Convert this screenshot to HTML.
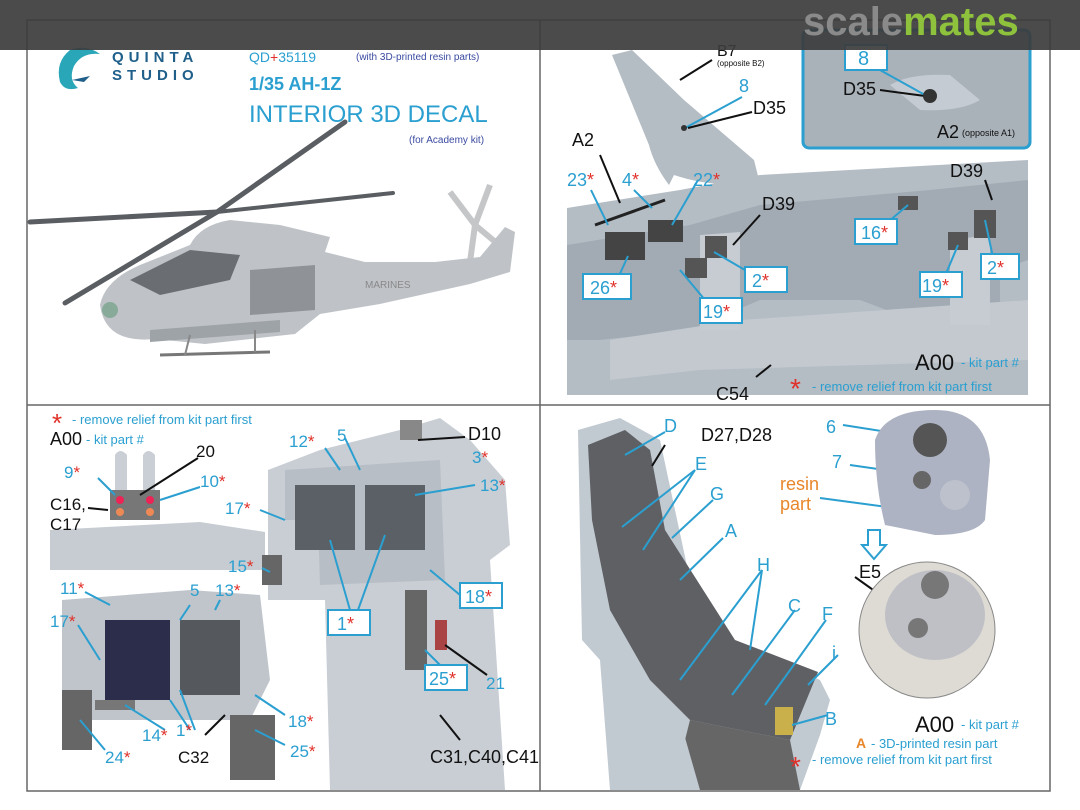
<!DOCTYPE html>
<html><head><meta charset="utf-8"><style>
html,body{margin:0;padding:0;background:#fff}
svg{display:block}
text{font-family:"Liberation Sans",sans-serif}
.c{fill:#2a9fd0}.k{fill:#111}.r{fill:#e0312a}
</style></head><body>
<svg width="1080" height="810" viewBox="0 0 1080 810" xmlns="http://www.w3.org/2000/svg">
<rect width="1080" height="810" fill="#fff"/>
<g stroke="#666" stroke-width="1.5" fill="none">
<rect x="27" y="20" width="1023" height="771"/>
<line x1="540" y1="20" x2="540" y2="791"/>
<line x1="27" y1="405" x2="1050" y2="405"/>
</g>

<!-- TOP LEFT -->
<g>
<path d="M70 50 q-15 12 -10 32 q5 10 18 6 q-10 -8 -4 -22 q8 -14 26 -12 q-14 -10 -30 -4z" fill="#29a7b8"/>
<path d="M72 80 l18 -4 l-6 6 z" fill="#1f5f8a"/>
<text x="112" y="62" font-size="15" letter-spacing="5" fill="#1f5f8a" font-weight="bold">QUINTA</text>
<text x="112" y="80" font-size="15" letter-spacing="5" fill="#1f5f8a" font-weight="bold">STUDIO</text>
<text x="249" y="62" font-size="14" class="c">QD<tspan class="r">+</tspan>35119</text>
<text x="356" y="60" font-size="10" fill="#3a4aa0">(with 3D-printed resin parts)</text>
<text x="249" y="90" font-size="18" font-weight="bold" class="c">1/35 AH-1Z</text>
<text x="249" y="122" font-size="24" class="c">INTERIOR 3D DECAL</text>
<text x="409" y="143" font-size="10" fill="#3a4aa0">(for Academy kit)</text>
<!-- helicopter -->
<g stroke="#5a5e62" stroke-linecap="round" fill="none">
<line x1="30" y1="222" x2="217" y2="212" stroke-width="5"/>
<line x1="217" y1="212" x2="393" y2="193" stroke-width="4"/>
<line x1="217" y1="212" x2="345" y2="122" stroke-width="5"/>
<line x1="217" y1="212" x2="65" y2="303" stroke-width="5"/>
</g>
<g stroke="#c4c6c8" stroke-width="6" fill="none">
<line x1="475" y1="225" x2="450" y2="192"/><line x1="475" y1="225" x2="490" y2="185"/>
<line x1="475" y1="225" x2="505" y2="250"/><line x1="475" y1="225" x2="470" y2="262"/>
</g>
<path d="M100 305 q5 -25 40 -40 l50 -20 q10 -20 40 -25 l50 5 l50 12 l-5 15 l40 10 l70 0 l45 -5 l25 -30 l10 5 l-5 40 l-40 12 l-90 20 l-60 10 l-25 20 l-90 10 l-50 -5 q-50 5 -55 -34z" fill="#bfc3c7"/>
<path d="M130 280 l60 -30 l50 5 l-10 25 l-70 15z" fill="#6a6e72"/>
<path d="M250 270 l65 -5 l0 45 l-65 5z" fill="#8f9398"/>
<path d="M150 330 l130 -10 l0 12 l-130 10z" fill="#9ea3a8"/>
<line x1="160" y1="355" x2="270" y2="352" stroke="#777" stroke-width="3"/>
<line x1="190" y1="335" x2="185" y2="355" stroke="#888" stroke-width="2"/><line x1="255" y1="330" x2="255" y2="352" stroke="#888" stroke-width="2"/>
<circle cx="110" cy="310" r="8" fill="#8a9"/>
<text x="365" y="288" font-size="10" fill="#888">MARINES</text>
</g>

<!-- TOP RIGHT -->
<path d="M612 55 l20 -5 l52 50 l70 60 l5 20 q-40 10 -85 -5 l-5 10 q-15 -20 -20 -40 z" fill="#b4bcc4"/>
<line x1="680" y1="80" x2="712" y2="60" stroke="#111" stroke-width="2"/>
<text x="717" y="56" font-size="16" class="k">B7</text>
<text x="717" y="66" font-size="8" class="k">(opposite B2)</text>
<text x="739" y="92" font-size="18" class="c">8</text>
<line x1="742" y1="97" x2="685" y2="128" stroke="#2a9fd0" stroke-width="2"/>
<text x="753" y="114" font-size="18" class="k">D35</text>
<line x1="752" y1="112" x2="688" y2="128" stroke="#111" stroke-width="2"/>
<circle cx="684" cy="128" r="3" fill="#333"/>
<rect x="803" y="30" width="227" height="118" rx="6" fill="#a9b1b9" stroke="#2a9fd0" stroke-width="3"/>
<path d="M890 85 q20 -12 60 -10 l30 25 q-20 12 -60 10z" fill="#c4cbd2"/>
<rect x="845" y="45" width="42" height="25" fill="#fff" stroke="#2a9fd0" stroke-width="2"/>
<text x="858" y="65" font-size="20" class="c">8</text>
<text x="843" y="95" font-size="18" class="k">D35</text>
<line x1="880" y1="90" x2="925" y2="96" stroke="#111" stroke-width="2"/>
<line x1="880" y1="70" x2="925" y2="95" stroke="#2a9fd0" stroke-width="2"/>
<circle cx="930" cy="96" r="7" fill="#333"/>
<text x="937" y="138" font-size="18" class="k">A2</text>
<text x="962" y="136" font-size="9" class="k">(opposite A1)</text>

<path d="M567 208 L680 190 L760 175 L1028 160 L1028 395 L567 395 Z" fill="#b4bcc4"/>
<path d="M567 245 L690 225 L760 205 L930 190 L1028 180 L1028 260 L1000 270 L1000 330 L940 330 L860 300 L760 300 L690 330 L600 340 L567 340 Z" fill="#a2aab3"/>
<path d="M610 340 L740 320 L1028 300 L1028 360 L700 370 L610 380 Z" fill="#c3c9cf"/>
<path d="M700 235 L740 232 L740 330 L700 330Z" fill="#c6ccd2"/>
<path d="M950 240 L990 235 L990 325 L950 325Z" fill="#c6ccd2"/>
<rect x="605" y="232" width="40" height="28" fill="#444"/>
<rect x="648" y="220" width="35" height="22" fill="#444"/>
<rect x="685" y="258" width="22" height="20" fill="#555"/>
<rect x="705" y="236" width="22" height="22" fill="#555"/>
<rect x="898" y="196" width="20" height="14" fill="#555"/>
<rect x="948" y="232" width="20" height="18" fill="#555"/>
<rect x="974" y="210" width="22" height="28" fill="#555"/>
<line x1="595" y1="225" x2="665" y2="200" stroke="#222" stroke-width="3"/>
<g stroke="#2a9fd0" stroke-width="2" fill="none">
<line x1="591" y1="190" x2="608" y2="225"/><line x1="634" y1="190" x2="652" y2="208"/>
<line x1="698" y1="180" x2="672" y2="225"/><line x1="628" y1="256" x2="618" y2="278"/>
<line x1="680" y1="270" x2="705" y2="300"/><line x1="714" y1="252" x2="745" y2="270"/>
<line x1="908" y1="205" x2="888" y2="222"/><line x1="958" y1="245" x2="945" y2="276"/>
<line x1="985" y1="220" x2="994" y2="262"/>
</g>
<line x1="600" y1="155" x2="620" y2="203" stroke="#111" stroke-width="2"/>
<line x1="760" y1="215" x2="733" y2="245" stroke="#111" stroke-width="2"/>
<line x1="985" y1="180" x2="992" y2="200" stroke="#111" stroke-width="2"/>
<line x1="771" y1="365" x2="756" y2="377" stroke="#111" stroke-width="2"/>
<text x="572" y="146" font-size="18" class="k">A2</text>
<text x="567" y="186" font-size="18" class="c">23<tspan class="r">*</tspan></text>
<text x="622" y="186" font-size="18" class="c">4<tspan class="r">*</tspan></text>
<text x="693" y="186" font-size="18" class="c">22<tspan class="r">*</tspan></text>
<text x="762" y="210" font-size="18" class="k">D39</text>
<text x="950" y="177" font-size="18" class="k">D39</text>
<text x="716" y="400" font-size="18" class="k">C54</text>
<g fill="#fff" stroke="#2a9fd0" stroke-width="2">
<rect x="583" y="274" width="48" height="25"/><rect x="745" y="267" width="42" height="25"/>
<rect x="700" y="298" width="42" height="25"/><rect x="855" y="219" width="42" height="25"/>
<rect x="920" y="272" width="42" height="25"/><rect x="981" y="254" width="38" height="25"/>
</g>
<text x="590" y="294" font-size="18" class="c">26<tspan class="r">*</tspan></text>
<text x="752" y="287" font-size="18" class="c">2<tspan class="r">*</tspan></text>
<text x="703" y="318" font-size="18" class="c">19<tspan class="r">*</tspan></text>
<text x="861" y="239" font-size="18" class="c">16<tspan class="r">*</tspan></text>
<text x="922" y="292" font-size="18" class="c">19<tspan class="r">*</tspan></text>
<text x="987" y="274" font-size="18" class="c">2<tspan class="r">*</tspan></text>
<text x="915" y="370" font-size="22" class="k">A00</text>
<text x="961" y="367" font-size="13" class="c">- kit part #</text>
<text x="790" y="398" font-size="28" class="r">*</text>
<text x="812" y="391" font-size="13" class="c">- remove relief from kit part first</text>

<!-- BOTTOM LEFT -->
<text x="52" y="432" font-size="26" class="r">*</text>
<text x="72" y="424" font-size="13" class="c">- remove relief from kit part first</text>
<text x="50" y="445" font-size="18" class="k">A00</text>
<text x="86" y="444" font-size="13" class="c">- kit part #</text>
<path d="M50 530 L200 522 L265 532 L265 570 L50 570Z" fill="#c6ccd2"/>
<path d="M115 455 q5 -8 12 0 l0 40 l-12 0z M143 455 q5 -8 12 0 l0 40 l-12 0z" fill="#c9cfd5"/>
<rect x="110" y="490" width="50" height="30" fill="#777"/>
<circle cx="120" cy="500" r="4" fill="#e25"/><circle cx="150" cy="500" r="4" fill="#e25"/>
<circle cx="120" cy="512" r="4" fill="#e85"/><circle cx="150" cy="512" r="4" fill="#e85"/>
<line x1="98" y1="478" x2="115" y2="495" stroke="#2a9fd0" stroke-width="2"/>
<line x1="198" y1="458" x2="140" y2="495" stroke="#111" stroke-width="2"/>
<line x1="200" y1="487" x2="160" y2="500" stroke="#2a9fd0" stroke-width="2"/>
<line x1="88" y1="508" x2="108" y2="510" stroke="#111" stroke-width="2"/>
<text x="64" y="478" font-size="17" class="c">9<tspan class="r">*</tspan></text>
<text x="196" y="457" font-size="17" class="k">20</text>
<text x="200" y="487" font-size="17" class="c">10<tspan class="r">*</tspan></text>
<text x="50" y="510" font-size="17" class="k">C16,</text>
<text x="50" y="530" font-size="17" class="k">C17</text>

<path d="M268 470 L320 450 L400 430 L440 418 L470 440 L505 480 L510 545 L490 560 L505 790 L330 790 L325 600 L268 600Z" fill="#c9ced4"/>
<path d="M285 470 L440 460 L445 580 L320 585 L318 520 L285 520Z" fill="#b8bec5"/>
<rect x="295" y="485" width="60" height="65" fill="#5b6066"/>
<rect x="365" y="485" width="60" height="65" fill="#5b6066"/>
<rect x="405" y="590" width="22" height="80" fill="#666"/>
<rect x="435" y="620" width="12" height="30" fill="#a44"/>
<rect x="262" y="555" width="20" height="30" fill="#666"/>
<rect x="400" y="420" width="22" height="20" fill="#888"/>
<path d="M62 600 L190 590 L260 595 L270 680 L250 720 L62 720Z" fill="#bfc5cb"/>
<rect x="105" y="620" width="65" height="80" fill="#2c2d4a"/>
<rect x="180" y="620" width="60" height="75" fill="#55595e"/>
<rect x="62" y="690" width="30" height="60" fill="#666"/>
<rect x="95" y="700" width="40" height="10" fill="#777"/>
<rect x="230" y="715" width="45" height="65" fill="#666"/>
<g stroke="#2a9fd0" stroke-width="2" fill="none">
<line x1="325" y1="448" x2="340" y2="470"/><line x1="345" y1="438" x2="360" y2="470"/>
<line x1="475" y1="485" x2="415" y2="495"/><line x1="260" y1="510" x2="285" y2="520"/>
<line x1="262" y1="568" x2="270" y2="572"/><line x1="460" y1="595" x2="430" y2="570"/>
<line x1="350" y1="610" x2="330" y2="540"/><line x1="358" y1="610" x2="385" y2="535"/>
<line x1="440" y1="665" x2="425" y2="650"/>
<line x1="85" y1="592" x2="110" y2="605"/><line x1="190" y1="605" x2="180" y2="620"/>
<line x1="220" y1="600" x2="215" y2="610"/><line x1="78" y1="625" x2="100" y2="660"/>
<line x1="195" y1="730" x2="180" y2="690"/><line x1="190" y1="730" x2="170" y2="700"/>
<line x1="165" y1="730" x2="125" y2="705"/><line x1="285" y1="715" x2="255" y2="695"/>
<line x1="285" y1="745" x2="255" y2="730"/><line x1="105" y1="750" x2="80" y2="720"/>
</g>
<g stroke="#111" stroke-width="2"><line x1="465" y1="437" x2="418" y2="440"/><line x1="487" y1="675" x2="445" y2="645"/><line x1="460" y1="740" x2="440" y2="715"/><line x1="205" y1="735" x2="225" y2="715"/></g>
<text x="289" y="447" font-size="17" class="c">12<tspan class="r">*</tspan></text>
<text x="337" y="441" font-size="17" class="c">5</text>
<text x="468" y="440" font-size="18" class="k">D10</text>
<text x="472" y="463" font-size="17" class="c">3<tspan class="r">*</tspan></text>
<text x="480" y="491" font-size="17" class="c">13<tspan class="r">*</tspan></text>
<text x="225" y="514" font-size="17" class="c">17<tspan class="r">*</tspan></text>
<text x="228" y="572" font-size="17" class="c">15<tspan class="r">*</tspan></text>
<g fill="#fff" stroke="#2a9fd0" stroke-width="2">
<rect x="460" y="583" width="42" height="25"/><rect x="328" y="610" width="42" height="25"/><rect x="425" y="665" width="42" height="25"/>
</g>
<text x="465" y="603" font-size="18" class="c">18<tspan class="r">*</tspan></text>
<text x="337" y="630" font-size="18" class="c">1<tspan class="r">*</tspan></text>
<text x="429" y="685" font-size="18" class="c">25<tspan class="r">*</tspan></text>
<text x="486" y="689" font-size="17" class="c">21</text>
<text x="430" y="763" font-size="18" class="k">C31,C40,C41</text>
<text x="60" y="594" font-size="17" class="c">11<tspan class="r">*</tspan></text>
<text x="190" y="596" font-size="17" class="c">5</text>
<text x="215" y="596" font-size="17" class="c">13<tspan class="r">*</tspan></text>
<text x="50" y="627" font-size="17" class="c">17<tspan class="r">*</tspan></text>
<text x="176" y="736" font-size="17" class="c">1<tspan class="r">*</tspan></text>
<text x="142" y="741" font-size="17" class="c">14<tspan class="r">*</tspan></text>
<text x="288" y="727" font-size="17" class="c">18<tspan class="r">*</tspan></text>
<text x="178" y="763" font-size="17" class="k">C32</text>
<text x="105" y="763" font-size="17" class="c">24<tspan class="r">*</tspan></text>
<text x="290" y="757" font-size="17" class="c">25<tspan class="r">*</tspan></text>

<!-- BOTTOM RIGHT -->
<path d="M578 430 L620 418 L660 440 L690 580 L730 640 L820 680 L830 700 L820 735 L800 790 L610 790 L600 660 L582 640Z" fill="#c1c9d1"/>
<path d="M588 445 L625 430 L650 450 L665 530 L735 640 L818 672 L790 740 L690 720 L650 680 L610 610 L592 520Z" fill="#5e6064"/>
<path d="M690 720 L790 740 L800 790 L700 790 L680 760Z" fill="#666"/>
<path d="M610 650 L680 720 L700 790 L610 790Z" fill="#c1c9d1"/>
<rect x="775" y="707" width="18" height="28" fill="#c9b04a"/>
<g stroke="#2a9fd0" stroke-width="2" fill="none">
<line x1="665" y1="432" x2="625" y2="455"/><line x1="695" y1="470" x2="622" y2="527"/>
<line x1="695" y1="470" x2="643" y2="550"/><line x1="713" y1="500" x2="672" y2="538"/>
<line x1="723" y1="538" x2="680" y2="580"/><line x1="762" y1="570" x2="680" y2="680"/>
<line x1="762" y1="570" x2="750" y2="650"/><line x1="795" y1="610" x2="732" y2="695"/>
<line x1="826" y1="620" x2="765" y2="705"/><line x1="838" y1="655" x2="808" y2="685"/>
<line x1="828" y1="715" x2="792" y2="725"/>
<line x1="843" y1="425" x2="920" y2="437"/><line x1="850" y1="465" x2="920" y2="475"/>
<line x1="820" y1="498" x2="895" y2="508"/>
</g>
<line x1="665" y1="445" x2="652" y2="466" stroke="#111" stroke-width="2"/>
<line x1="855" y1="577" x2="883" y2="597" stroke="#111" stroke-width="2"/>
<text x="664" y="432" font-size="18" class="c">D</text>
<text x="701" y="441" font-size="18" class="k">D27,D28</text>
<text x="695" y="470" font-size="18" class="c">E</text>
<text x="710" y="500" font-size="18" class="c">G</text>
<text x="725" y="537" font-size="18" class="c">A</text>
<text x="757" y="571" font-size="18" class="c">H</text>
<text x="788" y="612" font-size="18" class="c">C</text>
<text x="822" y="620" font-size="18" class="c">F</text>
<text x="832" y="659" font-size="18" class="c">i</text>
<text x="825" y="725" font-size="18" class="c">B</text>
<text x="826" y="433" font-size="18" class="c">6</text>
<text x="832" y="468" font-size="18" class="c">7</text>
<text x="780" y="490" font-size="18" fill="#e8862a">resin</text>
<text x="780" y="510" font-size="18" fill="#e8862a">part</text>
<path d="M875 440 q10 -30 60 -30 q50 0 55 50 l-5 60 q-10 15 -50 15 l-50 -10 q-10 -40 -10 -85z" fill="#adb3c3"/>
<circle cx="930" cy="440" r="17" fill="#555"/>
<circle cx="922" cy="480" r="9" fill="#666"/>
<circle cx="955" cy="495" r="15" fill="#bcc1cc"/>
<path d="M868 530 h12 v15 h6 l-12 14 l-12 -14 h6z" fill="#fff" stroke="#2a9fd0" stroke-width="2"/>
<text x="859" y="578" font-size="18" class="k">E5</text>
<ellipse cx="927" cy="630" rx="68" ry="68" fill="#dedbd4" stroke="#888"/>
<ellipse cx="935" cy="615" rx="50" ry="45" fill="#bfc0c6"/>
<circle cx="935" cy="585" r="14" fill="#777"/><circle cx="918" cy="628" r="10" fill="#777"/>
<text x="915" y="732" font-size="22" class="k">A00</text>
<text x="961" y="729" font-size="13" class="c">- kit part #</text>
<text x="856" y="748" font-size="14" fill="#e8862a" font-weight="bold">A</text>
<text x="871" y="748" font-size="13" class="c">- 3D-printed resin part</text>
<text x="790" y="776" font-size="28" class="r">*</text>
<text x="812" y="764" font-size="13" class="c">- remove relief from kit part first</text>

<rect x="0" y="0" width="1080" height="50" fill="#3c3c3c" fill-opacity="0.92"/>
<text x="803" y="35" font-size="40" font-weight="bold" fill="#8a8a8a">scale<tspan fill="#8fc23c">mates</tspan></text>
</svg>
</body></html>
